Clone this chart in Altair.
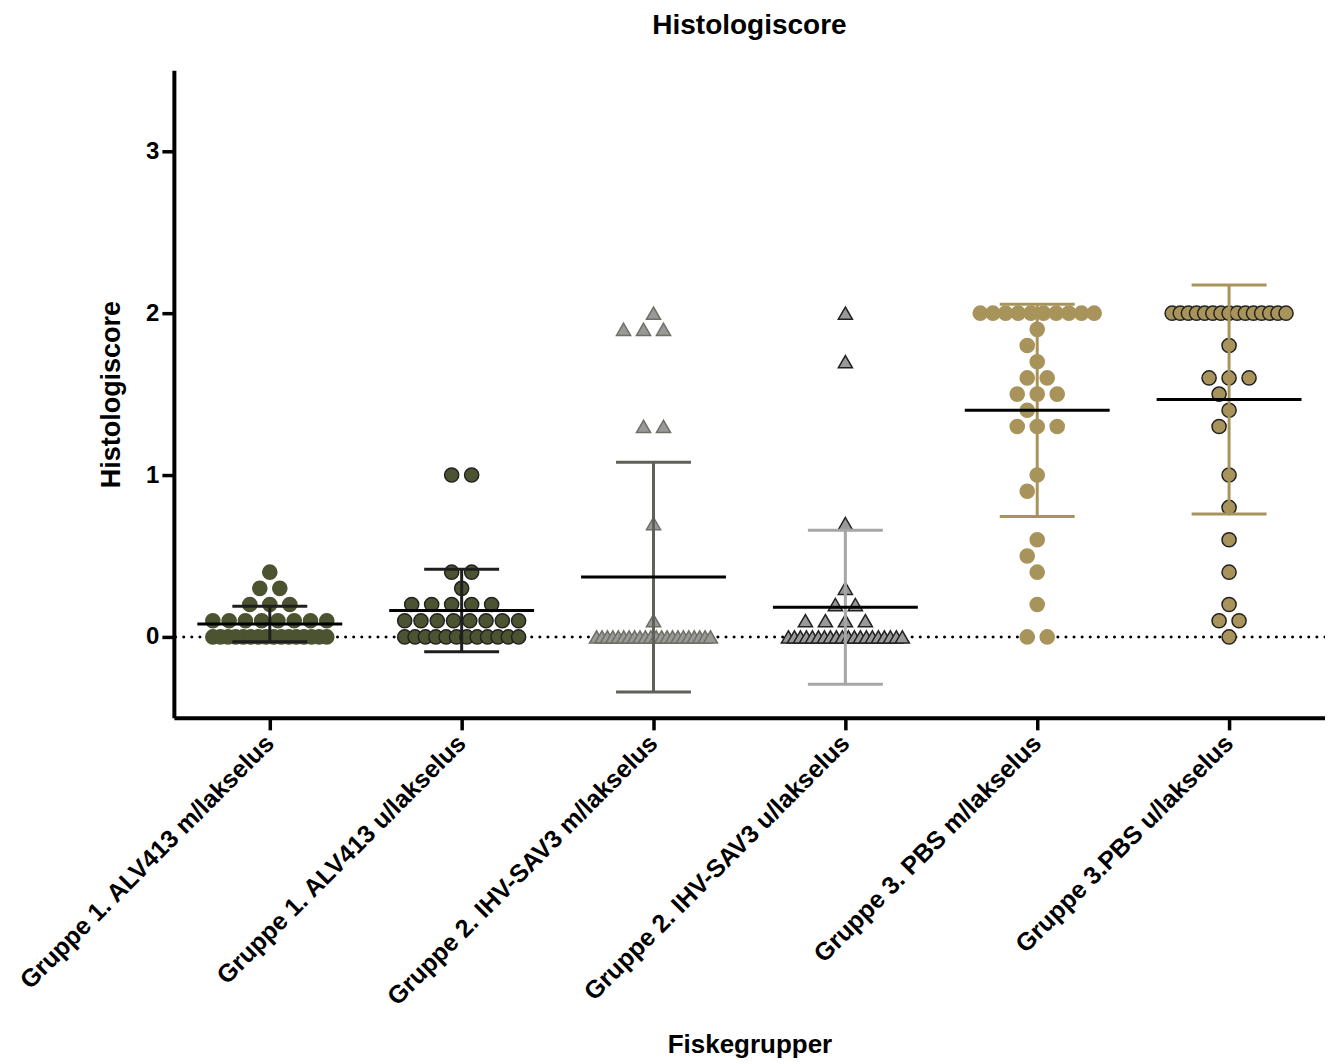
import altair as alt
import numpy as np
import pandas as pd

# ---------------- data ----------------
groups = [
    "Gruppe 1. ALV413 m/lakselus",
    "Gruppe 1. ALV413 u/lakselus",
    "Gruppe 2. IHV-SAV3 m/lakselus",
    "Gruppe 2. IHV-SAV3 u/lakselus",
    "Gruppe 3. PBS m/lakselus",
    "Gruppe 3.PBS u/lakselus",
]

# score levels and number of fish at each level
g1_scores = [0.4, 0.3, 0.2, 0.1, 0.0]
g1_counts = [1, 2, 3, 8, 16]

g2_scores = [1.0, 0.4, 0.3, 0.2, 0.1, 0.0]
g2_counts = [2, 2, 1, 5, 8, 12]

g3_scores = [2.0, 1.9, 1.3, 0.7, 0.1, 0.0]
g3_counts = [1, 3, 2, 1, 1, 22]

g4_scores = [2.0, 1.7, 0.7, 0.3, 0.2, 0.1, 0.0]
g4_counts = [1, 1, 1, 1, 2, 4, 20]

g5_scores = [2.0, 1.9, 1.8, 1.7, 1.6, 1.5, 1.4, 1.3, 1.0, 0.9, 0.6, 0.5, 0.4, 0.2, 0.0]
g5_counts = [10, 1, 1, 1, 2, 3, 1, 3, 1, 1, 1, 1, 1, 1, 2]

g6_scores = [2.0, 1.8, 1.6, 1.5, 1.4, 1.3, 1.0, 0.8, 0.6, 0.4, 0.2, 0.1, 0.0]
g6_counts = [15, 1, 3, 1, 1, 1, 1, 1, 1, 1, 1, 2, 1]

y_ticks = [0, 1, 2, 3]

# ---------------- styles ----------------
point_fill = ["#4b5331", "#4b5331", "#999999", "#999999", "#a8945b", "#a8945b"]
point_stroke = ["#4b5331", "#222222", "#6e7066", "#222222", "#a8945b", "#222222"]
point_shape = ["circle", "circle", "triangle-up", "triangle-up", "circle", "circle"]
bar_color = ["#1e1e1e", "#1e1e1e", "#5f6158", "#a6a6a6", "#a8945b", "#a8945b"]

FONT = "Liberation Sans"
W_PLOT, H_PLOT = 1152, 648
Y_DOM = [-0.5, 3.5]
PX = H_PLOT / (Y_DOM[1] - Y_DOM[0])  # pixels per score unit
BAND = W_PLOT / len(groups)

# ---------------- beeswarm layout (computed) ----------------
S, D, STEP, W_G, W_C = 20.0, 18.0, 10.0, 64.0, 57.0


def swarm(scores, counts):
    placed, out = [], []

    def free(x, y, extra):
        return all((x - a) ** 2 + (y - b) ** 2 >= D * D for a, b in placed + extra)

    for v, n in sorted(zip(scores, counts), key=lambda t: -t[0]):
        y = v * PX
        pos = None
        base = [(i - (n - 1) / 2) * S for i in range(n)]
        if (n - 1) * S / 2 <= W_G:
            for k in range(0, 8):
                for sgn in ([0] if k == 0 else [-1, 1]):
                    sh = sgn * k * STEP
                    cand = [b + sh for b in base]
                    if max(abs(c) for c in cand) <= W_G and all(free(c, y, []) for c in cand):
                        pos = cand
                        break
                if pos is not None:
                    break
        if pos is None:
            slots = [0.0]
            for k in range(1, int(W_G // STEP) + 1):
                slots += [-k * STEP, k * STEP]
            tmp = []
            for s in slots:
                if len(tmp) == n:
                    break
                if free(s, y, [(t, y) for t in tmp]):
                    tmp.append(s)
            if len(tmp) == n:
                pos = tmp
        if pos is None:
            pos = [0.0] if n == 1 else list(np.linspace(-W_C, W_C, n))
        for p in pos:
            placed.append((p, y))
            out.append((v, p))
    return out


all_scores = [g1_scores, g2_scores, g3_scores, g4_scores, g5_scores, g6_scores]
all_counts = [g1_counts, g2_counts, g3_counts, g4_counts, g5_counts, g6_counts]

rows = []
for g, sc, ct in zip(groups, all_scores, all_counts):
    for v, off in swarm(sc, ct):
        rows.append({"group": g, "score": v, "off": off})
df = pd.DataFrame(rows)

# ---------------- encodings ----------------
x_axis = alt.Axis(
    labelAngle=-45, labelAlign="right", labelBaseline="middle", labelLimit=600,
    labelFont=FONT, labelFontSize=25, labelFontWeight="bold", labelColor="black",
    labelPadding=9, tickSize=12, tickWidth=3.5, tickColor="black",
    domainWidth=4, domainColor="black", grid=False,
    titleFont=FONT, titleFontSize=26, titleFontWeight="bold", titleColor="black",
    titlePadding=114,
)
y_axis = alt.Axis(
    values=y_ticks, grid=False, labelFont=FONT, labelFontSize=24, labelFontWeight="bold",
    labelColor="black", labelPadding=3, tickSize=12, tickWidth=3.5, tickColor="black",
    domainWidth=4, domainColor="black",
    titleFont=FONT, titleFontSize=27, titleFontWeight="bold", titleColor="black",
    titlePadding=20,
)
x_scale = alt.Scale(domain=groups, paddingInner=0, paddingOuter=0)
y_scale = alt.Scale(domain=Y_DOM, nice=False, zero=False)


def X():
    return alt.X("group:N", scale=x_scale, sort=groups, axis=x_axis, title="Fiskegrupper")


def Y(field):
    return alt.Y(field, scale=y_scale, axis=y_axis, title="Histologiscore")


bar_scale = alt.Scale(domain=groups, range=bar_color)

zero_line = alt.Chart(pd.DataFrame({"score": [0.0]})).mark_rule(
    color="black", strokeWidth=3, strokeDash=[0.1, 8], strokeCap="round"
).encode(y=Y("score:Q"))

points = alt.Chart(df).mark_point(filled=True, size=200, strokeWidth=1.5, opacity=1).encode(
    x=X(),
    xOffset=alt.XOffset("off:Q", scale=alt.Scale(domain=[-BAND / 2, BAND / 2])),
    y=Y("score:Q"),
    fill=alt.Fill("group:N", scale=alt.Scale(domain=groups, range=point_fill), legend=None),
    stroke=alt.Stroke("group:N", scale=alt.Scale(domain=groups, range=point_stroke), legend=None),
    shape=alt.Shape("group:N", scale=alt.Scale(domain=groups, range=point_shape), legend=None),
)

stats = alt.Chart(df).transform_aggregate(
    mean="mean(score)", sd="stdev(score)", groupby=["group"]
).transform_calculate(lo="datum.mean - datum.sd", hi="datum.mean + datum.sd")

sd_rule = stats.mark_rule(strokeWidth=3).encode(
    x=X(), y=Y("lo:Q"), y2="hi:Q",
    color=alt.Color("group:N", scale=bar_scale, legend=None),
)
sd_hi = stats.mark_tick(size=75, thickness=3).encode(
    x=X(), y=Y("hi:Q"), color=alt.Color("group:N", scale=bar_scale, legend=None)
)
sd_lo = stats.mark_tick(size=75, thickness=3).encode(
    x=X(), y=Y("lo:Q"), color=alt.Color("group:N", scale=bar_scale, legend=None)
)
mean_tick = stats.mark_tick(size=145, thickness=3, color="black", opacity=1).encode(
    x=X(), y=Y("mean:Q")
)

chart = alt.layer(zero_line, points, sd_rule, sd_hi, sd_lo, mean_tick).properties(
    width=W_PLOT,
    height=H_PLOT,
    title=alt.Title("Histologiscore", font=FONT, fontSize=28, fontWeight="bold",
                    color="black", anchor="middle", offset=30),
    padding={"left": 166, "top": 62, "right": 0, "bottom": 344},
    autosize=alt.AutoSizeParams(type="none"),
).configure_view(stroke=None).configure_tick(opacity=1)

chart.save("out.html", embed_options={"renderer": "svg", "actions": False})
